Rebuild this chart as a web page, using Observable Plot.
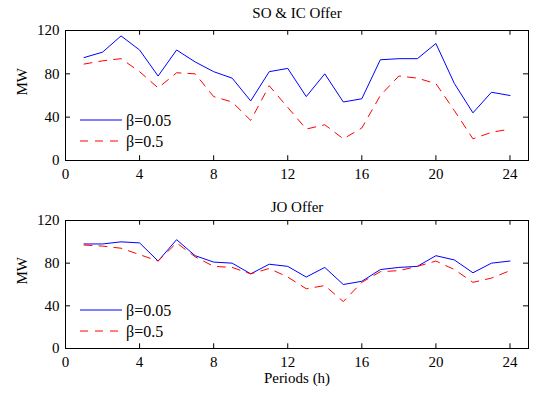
<!DOCTYPE html>
<html>
<head>
<meta charset="utf-8">
<script src="https://cdn.jsdelivr.net/npm/d3@7"></script>
<script src="https://cdn.jsdelivr.net/npm/@observablehq/plot@0.6"></script>
<style>
  body { margin: 0; background: #fff; }
  #wrap { width: 538px; height: 393px; overflow: hidden; }
  svg { display: block; }
  svg, svg text { font-family: "Liberation Serif", "Times New Roman", "DejaVu Serif", serif !important; }
</style>
</head>
<body>
<div id="wrap"></div>
<script>
const periods = d3.range(1, 25);
const soBeta005 = [95, 100, 115, 102, 78, 102, 91, 82, 76, 55, 82, 85, 59, 80, 54, 57, 93, 94, 94, 108, 71, 44, 63, 60];
const soBeta05  = [89, 92, 94, 82, 67, 81, 80, 59, 54, 37, 69, 49, 29, 33, 20, 30, 60, 78, 76, 71, 46, 20, 26, 29];
const joBeta005 = [98, 98, 100, 99, 82, 102, 87, 81, 80, 70, 79, 77, 67, 76, 60, 63, 74, 76, 77, 87, 83, 71, 80, 82];
const joBeta05  = [97, 96, 94, 88, 82, 99, 86, 77, 76, 70, 75, 67, 56, 59, 44, 62, 72, 73, 77, 82, 74, 62, 66, 73];
const xTicks = [0, 4, 8, 12, 16, 20, 24];
const yTicks = [0, 40, 80, 120];
const seriesNames = ["β=0.05", "β=0.5"];
const titles = ["SO & IC Offer", "JO Offer"];
const xLabel = "Periods (h)";
const yLabel = "MW";

const font = "Liberation Serif, Times New Roman, DejaVu Serif, serif";
const blue = "#0000ff", red = "#ff0000", dash = "8,7";

function panel(title, a, b, opts) {
  const {height, marginTop, marginBottom, titleDy, legendY, showXLabel} = opts;
  const rowsA = periods.map((p, i) => ({p, v: a[i]}));
  const rowsB = periods.map((p, i) => ({p, v: b[i]}));
  const tx = 0.27, ty = 4.4; // inward tick length in data units
  const marks = [
    Plot.ruleX(xTicks, {y1: 0, y2: ty, stroke: "black"}),
    Plot.ruleX(xTicks, {y1: 120 - ty, y2: 120, stroke: "black"}),
    Plot.ruleY(yTicks, {x1: 0, x2: tx, stroke: "black"}),
    Plot.ruleY(yTicks, {x1: 25 - tx, x2: 25, stroke: "black"}),
    Plot.line(rowsA, {x: "p", y: "v", stroke: blue, strokeWidth: 1}),
    Plot.line(rowsB, {x: "p", y: "v", stroke: red, strokeWidth: 1, strokeDasharray: dash}),
    Plot.frame({stroke: "black", strokeWidth: 1}),
    Plot.axisX({ticks: xTicks, tickSize: 0, tickPadding: 8, fontSize: 15, fontFamily: font, label: null, tickFormat: d => d}),
    Plot.axisY({ticks: yTicks, tickSize: 0, tickPadding: 6, fontSize: 15, fontFamily: font, label: null, tickFormat: d => d}),
    Plot.text([title], {frameAnchor: "top", lineAnchor: "middle", dy: titleDy, fontSize: 15, fontFamily: font, fill: "black"}),
    Plot.text([yLabel], {frameAnchor: "left", dx: -43, rotate: -90, fontSize: 15, fontFamily: font, fill: "black"})
  ];
  if (showXLabel) {
    marks.push(Plot.text([xLabel], {frameAnchor: "bottom", lineAnchor: "middle", dy: 30, fontSize: 15, fontFamily: font, fill: "black"}));
  }
  const svg = Plot.plot({
    width: 538,
    height,
    marginLeft: 65,
    marginRight: 10,
    marginTop,
    marginBottom,
    style: {fontFamily: font, fontSize: "15px", color: "black", background: "white", overflow: "visible"},
    x: {domain: [0, 25]},
    y: {domain: [0, 120]},
    marks
  });
  const s = d3.select(svg);
  const g = s.append("g").attr("font-family", font).attr("font-size", 16).attr("text-anchor", "start");
  [[blue, null], [red, dash]].forEach(([c, d], i) => {
    const y = legendY + i * 21;
    g.append("line").attr("x1", 80).attr("x2", 122).attr("y1", y).attr("y2", y)
      .attr("stroke", c).attr("stroke-width", 1).attr("stroke-dasharray", d);
    g.append("text").attr("x", 126).attr("y", y).attr("dy", "0.35em").attr("fill", "black").text(seriesNames[i]);
  });
  return svg;
}

const wrap = document.getElementById("wrap");
wrap.appendChild(panel(titles[0], soBeta005, soBeta05, {height: 196, marginTop: 30, marginBottom: 36, titleDy: -17, legendY: 120, showXLabel: false}));
wrap.appendChild(panel(titles[1], joBeta005, joBeta05, {height: 197, marginTop: 24, marginBottom: 45, titleDy: -13, legendY: 114, showXLabel: true}));
</script>
</body>
</html>
